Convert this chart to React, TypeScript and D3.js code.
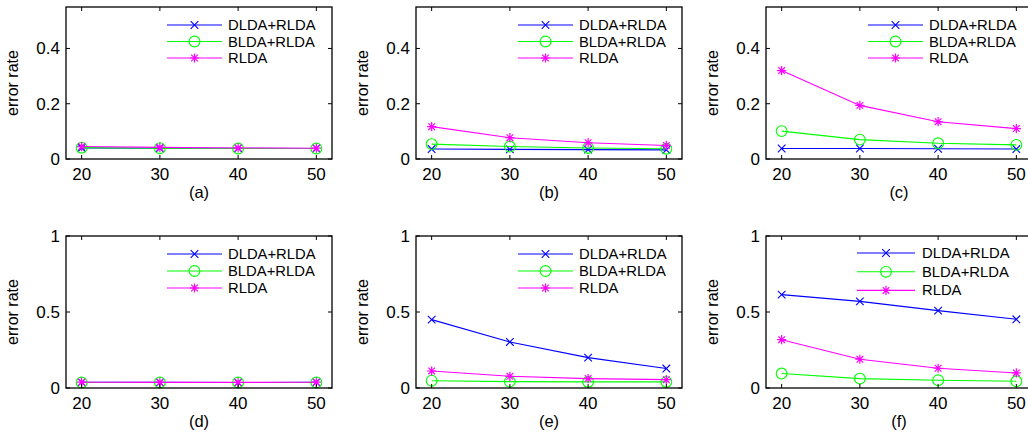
import React from 'react';
import * as d3 from 'd3';

const W = 1028;
const H = 432;
const blue = '#0000ff';
const green = '#00ff00';
const magenta = '#ff00ff';
const font = '"Liberation Sans", Arial, Helvetica, sans-serif';

// x values (number of training samples)
const xValues = [20, 30, 40, 50];
const seriesNames = ['DLDA+RLDA', 'BLDA+RLDA', 'RLDA'];

// error rates
const dldaA = [0.040, 0.039, 0.039, 0.038];
const bldaA = [0.041, 0.039, 0.038, 0.038];
const rldaA = [0.045, 0.042, 0.040, 0.039];

const dldaB = [0.036, 0.035, 0.034, 0.033];
const bldaB = [0.054, 0.045, 0.040, 0.037];
const rldaB = [0.117, 0.077, 0.059, 0.049];

const dldaC = [0.038, 0.038, 0.037, 0.036];
const bldaC = [0.101, 0.070, 0.057, 0.051];
const rldaC = [0.320, 0.194, 0.135, 0.110];

const dldaD = [0.037, 0.037, 0.036, 0.037];
const bldaD = [0.036, 0.036, 0.036, 0.036];
const rldaD = [0.038, 0.037, 0.037, 0.038];

const dldaE = [0.450, 0.303, 0.200, 0.128];
const bldaE = [0.048, 0.042, 0.040, 0.040];
const rldaE = [0.112, 0.077, 0.062, 0.055];

const dldaF = [0.614, 0.570, 0.509, 0.452];
const bldaF = [0.095, 0.062, 0.051, 0.044];
const rldaF = [0.318, 0.189, 0.130, 0.099];

const topTicks = [0, 0.2, 0.4];
const bottomTicks = [0, 0.5, 1];
const xTicks = [20, 30, 40, 50];

// layout
const colLeft = [66, 416, 766];
const rowTop = [7, 236];
const plotW = 266;
const plotH = 152;

const panels = [
    {label: '(a)', col: 0, row: 0, yMax: 0.55, yTicks: topTicks, data: [dldaA, bldaA, rldaA], leg: {x0: 101, x1: 156, tx: 162, y: 18, dy: 16.5}},
    {label: '(b)', col: 1, row: 0, yMax: 0.55, yTicks: topTicks, data: [dldaB, bldaB, rldaB], leg: {x0: 102, x1: 157, tx: 163, y: 18, dy: 16.5}},
    {label: '(c)', col: 2, row: 0, yMax: 0.55, yTicks: topTicks, data: [dldaC, bldaC, rldaC], leg: {x0: 102, x1: 157, tx: 163, y: 18, dy: 16.5}},
    {label: '(d)', col: 0, row: 1, yMax: 1, yTicks: bottomTicks, data: [dldaD, bldaD, rldaD], leg: {x0: 101, x1: 156, tx: 162, y: 18, dy: 17}},
    {label: '(e)', col: 1, row: 1, yMax: 1, yTicks: bottomTicks, data: [dldaE, bldaE, rldaE], leg: {x0: 102, x1: 157, tx: 163, y: 18, dy: 17}},
    {label: '(f)', col: 2, row: 1, yMax: 1, yTicks: bottomTicks, data: [dldaF, bldaF, rldaF], leg: {x0: 91, x1: 149, tx: 156, y: 17, dy: 18.7}},
];

const colors = [blue, green, magenta];
const markers = ['x', 'o', '*'];

function Marker({type, x, y, color}: {type: string; x: number; y: number; color: string}) {
    const s = 3.8;
    if (type === 'x') {
        return <path d={`M${x - s},${y - s}L${x + s},${y + s}M${x - s},${y + s}L${x + s},${y - s}`} stroke={color} strokeWidth={1.1} fill='none'/>;
    }
    if (type === 'o') {
        return <circle cx={x} cy={y} r={5.4} stroke={color} strokeWidth={1.1} fill='none'/>;
    }
    const r = 4.6;
    const d = r * 0.72;
    return <path d={`M${x - r},${y}L${x + r},${y}M${x},${y - r}L${x},${y + r}M${x - d},${y - d}L${x + d},${y + d}M${x - d},${y + d}L${x + d},${y - d}`}
                 stroke={color} strokeWidth={1.2} fill='none'/>;
}

function Panel({p}: {p: typeof panels[0]}) {
    const left = colLeft[p.col];
    const top = rowTop[p.row];
    const xScale = d3.scaleLinear().domain([18, 52]).range([0, plotW]);
    const yScale = d3.scaleLinear().domain([0, p.yMax]).range([plotH, 0]);
    const line = d3.line<number>().x((d, i) => xScale(xValues[i])).y(d => yScale(d));
    const fmt = (v: number) => `${v}`;
    const tl = 4;
    return (
        <g transform={`translate(${left},${top})`}>
            {p.data.map((vals, si) => (
                <g key={si}>
                    <path d={line(vals) || ''} fill='none' stroke={colors[si]} strokeWidth={1.1}/>
                    {vals.map((v, i) => (
                        <Marker key={i} type={markers[si]} x={xScale(xValues[i])} y={yScale(v)} color={colors[si]}/>
                    ))}
                </g>
            ))}
            <rect x={0} y={0} width={plotW} height={plotH} fill='none' stroke='#000' strokeWidth={1.3}/>
            {xTicks.map(t => (
                <g key={'x' + t}>
                    <line x1={xScale(t)} x2={xScale(t)} y1={plotH} y2={plotH - tl} stroke='#000'/>
                    <line x1={xScale(t)} x2={xScale(t)} y1={0} y2={tl} stroke='#000'/>
                    <text x={xScale(t)} y={plotH + 21} textAnchor='middle' fontSize={17}>{fmt(t)}</text>
                </g>
            ))}
            {p.yTicks.map(t => (
                <g key={'y' + t}>
                    <line x1={0} x2={tl} y1={yScale(t)} y2={yScale(t)} stroke='#000'/>
                    <line x1={plotW} x2={plotW - tl} y1={yScale(t)} y2={yScale(t)} stroke='#000'/>
                    <text x={-6} y={yScale(t) + 6} textAnchor='end' fontSize={17}>{fmt(t)}</text>
                </g>
            ))}
            <text transform={`translate(${-48},${plotH / 2}) rotate(-90)`} textAnchor='middle' fontSize={16}>error rate</text>
            <text x={plotW / 2} y={plotH + 39} textAnchor='middle' fontSize={16.5}>{p.label}</text>
            {seriesNames.map((name, si) => {
                const ly = p.leg.y + si * p.leg.dy;
                return (
                    <g key={name}>
                        <line x1={p.leg.x0} x2={p.leg.x1} y1={ly} y2={ly} stroke={colors[si]} strokeWidth={1.1}/>
                        <Marker type={markers[si]} x={(p.leg.x0 + p.leg.x1) / 2} y={ly} color={colors[si]}/>
                        <text x={p.leg.tx} y={ly + 5} fontSize={14.8}>{name}</text>
                    </g>
                );
            })}
        </g>
    );
}

export default function App() {
    return (
        <svg width={W} height={H} style={{position: 'absolute', left: 0, top: 0, background: '#fff'}}
             fontFamily={font}>
            <rect width={W} height={H} fill='#fff'/>
            {panels.map(p => <Panel key={p.label} p={p}/>)}
        </svg>
    );
}
